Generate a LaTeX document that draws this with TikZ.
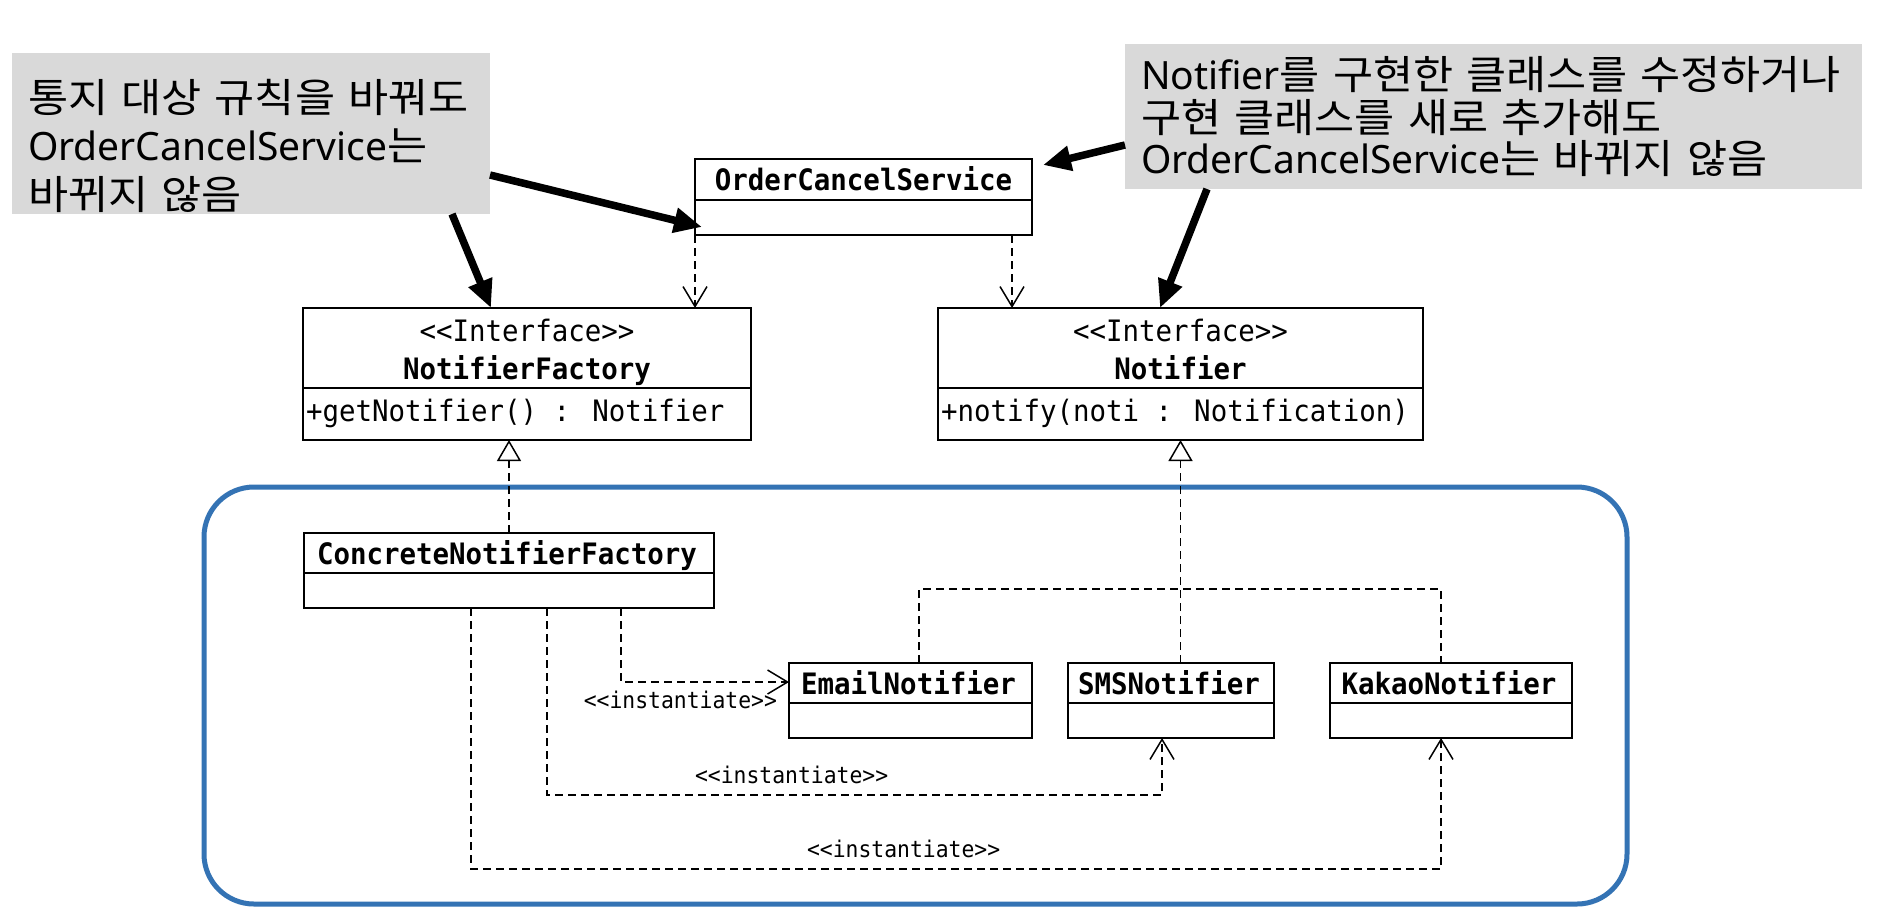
\documentclass[tikz,border=0pt]{standalone}
\usepackage{fontspec}
\setmainfont[FakeStretch=1.09, WordSpace=1.35]{Noto Sans CJK KR}
\newfontfamily\latfont{Noto Sans}
\newfontfamily\umlfont[FakeStretch=0.93]{DejaVu Sans Mono}
\usetikzlibrary{arrows.meta}
\definecolor{notegray}{RGB}{217,217,217}
\definecolor{groupblue}{RGB}{52,115,180}
\newcommand{\latin}[1]{{\latfont\fontsize{39}{44}\selectfont #1}}

\begin{document}
\begin{tikzpicture}[x=1pt,y=-1pt,
  every node/.style={outer sep=0pt},
  umlbox/.style={draw, line width=1.8pt, fill=white, inner sep=0pt, anchor=north west},
  clsdiv/.style={line width=1.8pt},
  clstitle/.style={font=\umlfont\bfseries\fontsize{29.5}{30}\selectfont, inner sep=0pt, anchor=base},
  clsmember/.style={font=\umlfont\fontsize{29.5}{30}\selectfont, inner sep=0pt},
  notebox/.style={fill=notegray, draw=none, inner sep=0pt, anchor=north west},
  ctext/.style={font=\fontsize{40}{46}\selectfont, inner sep=0pt, anchor=base west},
  dashline/.style={line width=1.5pt, dash pattern=on 8pt off 5pt},
  dep/.style={dashline, -{Straight Barb[length=20pt,width=24pt]}},
  real/.style={dashline, -{Triangle[open,length=21pt,width=24pt,fill=white]}},
  inst/.style={font=\umlfont\fontsize{23}{24}\selectfont, inner sep=0pt},
  bigarrow/.style={line width=7.5pt, -{Triangle[length=28pt,width=24pt]}},
]
\useasboundingbox (0,0) rectangle (1882,922);
\fill[white] (0,0) rectangle (1882,922);

% group frame
\node[draw=groupblue, line width=5pt, rounded corners=50pt, minimum width=1423pt, minimum height=417pt, anchor=north west] (grp) at (204,487) {};

% notes
\node[notebox, minimum width=478pt, minimum height=161pt] (lnote) at (12,53) {};
\node[ctext] (lnote-1) at (28,112) {통지 대상 규칙을 바꿔도};
\node[ctext] (lnote-2) at (28,160.5) {\latin{OrderCancelService}는};
\node[ctext] (lnote-3) at (28,209) {바뀌지 않음};

\node[notebox, minimum width=737pt, minimum height=145pt] (rnote) at (1125,44) {};
\node[ctext] (rnote-1) at (1141,89) {\latin{Notifier}를 구현한 클래스를 수정하거나};
\node[ctext] (rnote-2) at (1141,132) {구현 클래스를 새로 추가해도};
\node[ctext] (rnote-3) at (1141,173.5) {\latin{OrderCancelService}는 바뀌지 않음};

% connector coordinates
\coordinate (ocs-dr) at (1012,235);
\coordinate (email-up) at (919,663);
\coordinate (sms-up) at (1180.5,663);
\coordinate (kakao-up) at (1441,663);
\coordinate (busy) at (0,589);
\coordinate (cnf-o1) at (621,608);
\coordinate (cnf-o2) at (547,608);
\coordinate (cnf-o3) at (471,608);
\coordinate (email-in) at (789,682);
\coordinate (sms-in) at (1162,738);
\coordinate (kakao-in) at (1441,738);
\coordinate (lane2) at (0,795);
\coordinate (lane3) at (0,869);

% OrderCancelService
\node[umlbox, minimum width=337pt, minimum height=76pt] (ocs) at (695,159) {};
\draw[clsdiv] ([yshift=-41pt]ocs.north west) -- ([yshift=-41pt]ocs.north east);
\node[clstitle] (ocs-name) at (863.5,190) {OrderCancelService};

% NotifierFactory
\node[umlbox, minimum width=448pt, minimum height=132pt] (nf) at (303,308) {};
\draw[clsdiv] ([yshift=-80pt]nf.north west) -- ([yshift=-80pt]nf.north east);
\node[clsmember, anchor=base] (nf-st) at (527,341) {<<Interface>>};
\node[clstitle] (nf-name) at (527,379) {NotifierFactory};
\node[clsmember, anchor=base west] (nf-op) at (306,421) {+getNotifier() : Notifier};

% Notifier
\node[umlbox, minimum width=485pt, minimum height=132pt] (notifier) at (938,308) {};
\draw[clsdiv] ([yshift=-80pt]notifier.north west) -- ([yshift=-80pt]notifier.north east);
\node[clsmember, anchor=base] (nt-st) at (1180.5,341) {<<Interface>>};
\node[clstitle] (nt-name) at (1180.5,379) {Notifier};
\node[clsmember, anchor=base west] (nt-op) at (941,421) {+notify(noti : Notification)};

% ConcreteNotifierFactory
\node[umlbox, minimum width=410pt, minimum height=75pt] (cnf) at (304,533) {};
\draw[clsdiv] ([yshift=-40pt]cnf.north west) -- ([yshift=-40pt]cnf.north east);
\node[clstitle] (cnf-name) at (507,564) {ConcreteNotifierFactory};

% Email / SMS / Kakao
\node[umlbox, minimum width=243pt, minimum height=75pt] (email) at (789,663) {};
\draw[clsdiv] ([yshift=-40pt]email.north west) -- ([yshift=-40pt]email.north east);
\node[clstitle] (email-name) at (908.5,694) {EmailNotifier};

\node[umlbox, minimum width=206pt, minimum height=75pt] (sms) at (1068,663) {};
\draw[clsdiv] ([yshift=-40pt]sms.north west) -- ([yshift=-40pt]sms.north east);
\node[clstitle] (sms-name) at (1169,694) {SMSNotifier};

\node[umlbox, minimum width=242pt, minimum height=75pt] (kakao) at (1330,663) {};
\draw[clsdiv] ([yshift=-40pt]kakao.north west) -- ([yshift=-40pt]kakao.north east);
\node[clstitle] (kakao-name) at (1449,694) {KakaoNotifier};

% dependencies from OrderCancelService
\draw[dep] (ocs.south west) -- (ocs.south west |- nf.north);
\draw[dep] (ocs-dr) -- (ocs-dr |- notifier.north);

% realizations
\draw[real] (cnf.north) -- (cnf.north |- nf.south);
\draw[dashline] (email-up) |- (busy -| kakao-up) -- (kakao-up);
\draw[real] (sms-up) -- (sms-up |- notifier.south);

% instantiate
\draw[dep] (cnf-o1) |- (email-in);
\draw[dep] (cnf-o2) |- (lane2 -| sms-in) -- (sms-in);
\draw[dep] (cnf-o3) |- (lane3 -| kakao-in) -- (kakao-in);
\node[inst, anchor=base east] (lab1) at (777,708) {<<instantiate>>};
\node[inst, anchor=base west] (lab2) at (695,783) {<<instantiate>>};
\node[inst, anchor=base west] (lab3) at (807,857) {<<instantiate>>};

% callout arrows
\draw[bigarrow] ([xshift=440pt]lnote.south west) -- ([xshift=188pt]nf.north west);
\draw[bigarrow] ([yshift=39pt]lnote.south east) -- ([shift={(7pt,8pt)}]ocs.south west);
\draw[bigarrow] ([yshift=44pt]rnote.south west) -- ([shift={(11pt,-6pt)}]ocs.north east);
\draw[bigarrow] ([xshift=82pt]rnote.south west) -- ([xshift=222pt]notifier.north west);
\end{tikzpicture}
\end{document}
